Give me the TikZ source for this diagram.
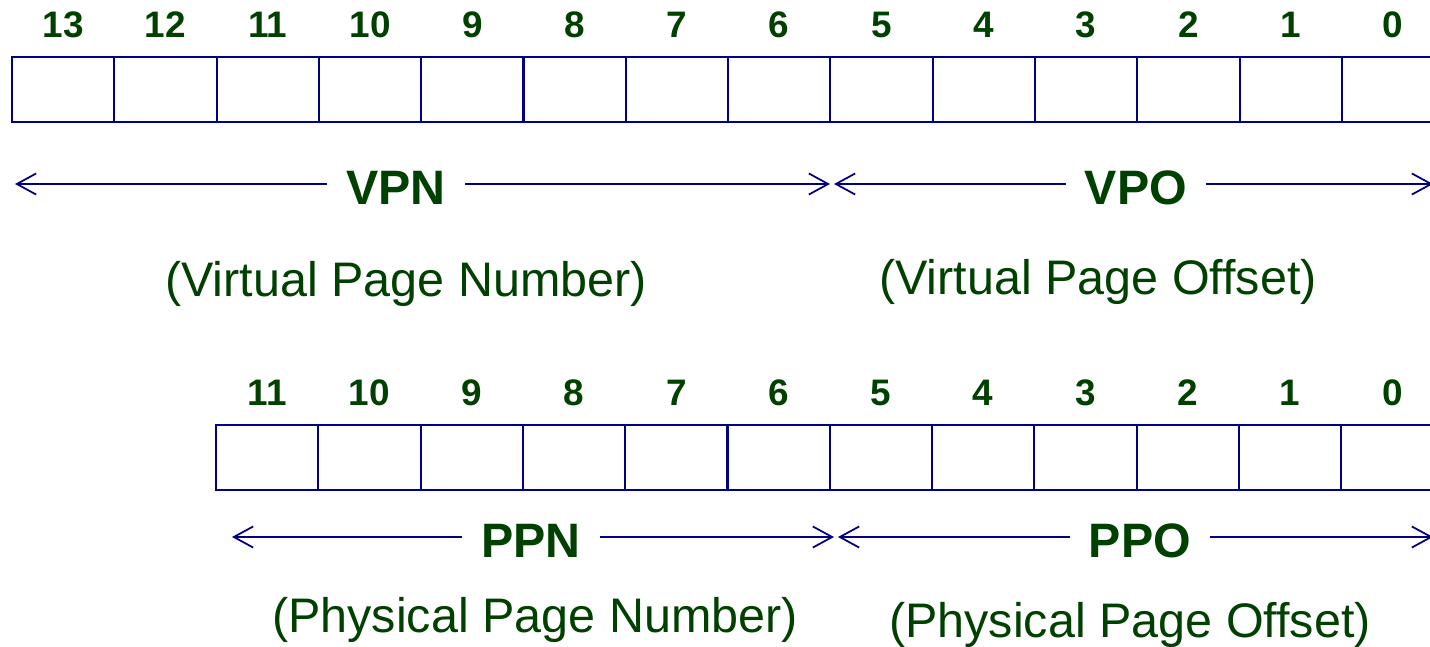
\documentclass[tikz,border=0pt]{standalone}
\usepackage{fontspec}
\setmainfont{Liberation Sans}
\usetikzlibrary{arrows.meta}
\definecolor{txtgreen}{RGB}{0,64,0}
\definecolor{navyline}{RGB}{0,0,128}
\begin{document}
\begin{tikzpicture}[x=0.02cm,y=-0.02cm,
 cell/.style={draw=navyline,line width=1.2pt,minimum width=2.046cm,minimum height=1.3cm,inner sep=0pt,outer sep=0pt,anchor=north west},
 bitlbl/.style={text=txtgreen,font=\fontsize{21}{24}\selectfont\bfseries},
 field/.style={text=txtgreen,font=\fontsize{27.5}{33}\selectfont\bfseries,fill=white,inner xsep=11pt,inner ysep=2pt},
 desc/.style={text=txtgreen,font=\fontsize{27.6}{33}\selectfont},
 span/.style={draw=navyline,line width=1pt,{Straight Barb[length=11pt,width=12pt]}-{Straight Barb[length=11pt,width=12pt]}}]
\useasboundingbox (0,0) rectangle (1430,646);
% top register
\foreach \i in {0,...,13}{
  \node[cell] (t\i) at ({12+102.3*(13-\i)},57) {};
  \path (t\i.north) ++(0,-32) node[bitlbl] (tl\i) {\i};
}
% bottom register
\foreach \i in {0,...,11}{
  \node[cell] (b\i) at ({216+102.3*(11-\i)},425) {};
  \path (b\i.north) ++(0,-32) node[bitlbl] (bl\i) {\i};
}
% spans
\coordinate (vpnL) at (15,184);
\coordinate (vpnR) at (830,184);
\coordinate (vpoL) at (834,184);
\coordinate (vpoR) at (1433,184);
\coordinate (ppnL) at (232,537);
\coordinate (ppnR) at (834,537);
\coordinate (ppoL) at (838,537);
\coordinate (ppoR) at (1433,537);
\draw[span] (vpnL) -- (vpnR);
\draw[span] (vpoL) -- (vpoR);
\draw[span] (ppnL) -- (ppnR);
\draw[span] (ppoL) -- (ppoR);
\node[field] (vpn) at (396,188) {VPN};
\node[field] (vpo) at (1136,188) {VPO};
\node[field] (ppn) at (531,541) {PPN};
\node[field] (ppo) at (1140,541) {PPO};
\node[desc] (vpnd) at (406,284) {(Virtual Page Number)};
\node[desc] (vpod) at (1098,282) {(Virtual Page Offset)};
\node[desc] (ppnd) at (535,620) {(Physical Page Number)};
\node[desc] (ppod) at (1130,625) {(Physical Page Offset)};
\end{tikzpicture}
\end{document}
